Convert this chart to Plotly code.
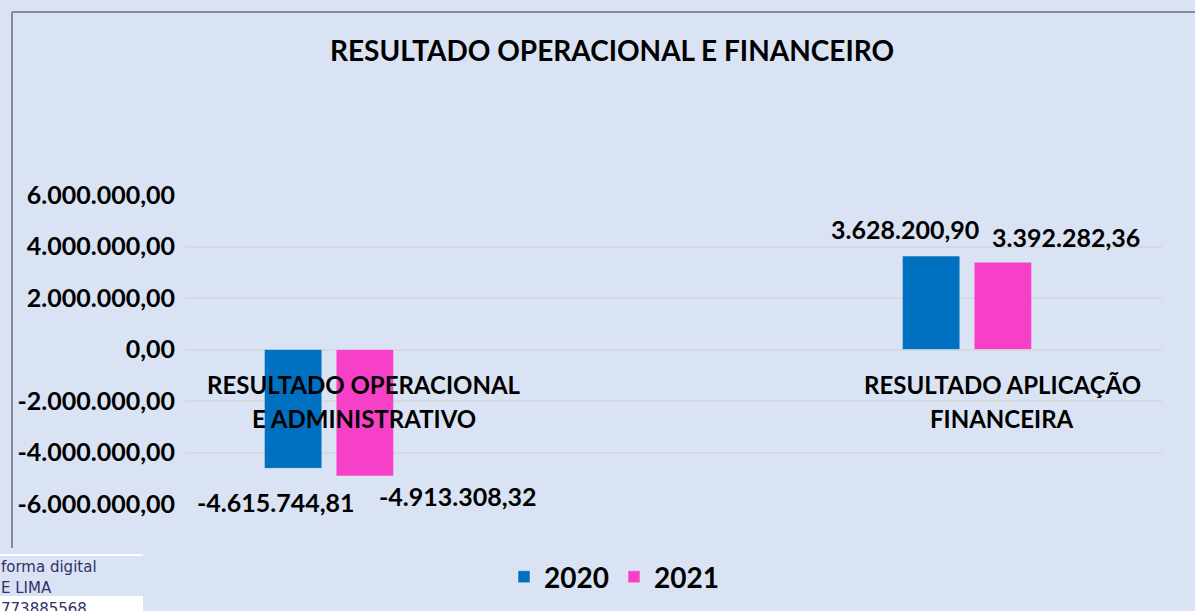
import plotly.graph_objects as go

# ---- data ----
categories = ["RESULTADO OPERACIONAL E ADMINISTRATIVO", "RESULTADO APLICAÇÃO FINANCEIRA"]
category_lines = [["RESULTADO OPERACIONAL", "E ADMINISTRATIVO"], ["RESULTADO APLICAÇÃO", "FINANCEIRA"]]
series_names = ["2020", "2021"]
values_2020 = [-4615744.81, 3628200.90]
values_2021 = [-4913308.32, 3392282.36]
tick_values = [-6000000, -4000000, -2000000, 0, 2000000, 4000000, 6000000]
title_text = "RESULTADO OPERACIONAL E FINANCEIRO"
stamp_lines = ["forma digital", "E LIMA", "773885568"]


def br(v):
    s = f"{v:,.2f}"
    return s.replace(",", "#").replace(".", ",").replace("#", ".")


W, H = 1195, 611
L, R, T, B = 185, 1162, 195, 504
FONT = "Lato"
BG = "#dae3f3"
BLUE = "#0070c0"
PINK = "#f640c8"

fig = go.Figure()
fig.add_trace(go.Bar(x=[0, 1], y=values_2020, name=series_names[0], marker_color=BLUE))
fig.add_trace(go.Bar(x=[0, 1], y=values_2021, name=series_names[1], marker_color=PINK))


def px2paper(px, py):
    return (px - L) / (R - L), (B - py) / (B - T)


ann = []
# data labels (manually placed as in the reference)
label_specs = [
    (values_2020[0], 0, -53, -34),
    (values_2021[0], 0, 129, -20),
    (values_2020[1], 1, -62, 27),
    (values_2021[1], 1, 99, 25),
]
for v, xi, xs, ys in label_specs:
    ann.append(dict(x=xi, y=v, xref="x", yref="y", text=br(v), showarrow=False,
                    xshift=xs, yshift=ys, yanchor="middle",
                    font=dict(family=FONT, size=25, color="black", weight="bold")))
# category labels
for xi, lines in enumerate(category_lines):
    for li, line in enumerate(lines):
        ann.append(dict(x=xi, y=0, xref="x", yref="y", text=line, showarrow=False,
                        xshift=35, yshift=-(35 + 34 * li), yanchor="middle",
                        font=dict(family=FONT, size=24, color="black", weight="bold")))
# stamp text
for i, line in enumerate(stamp_lines):
    xp, yp = px2paper(-1, 567 + 21 * i)
    ann.append(dict(x=xp, y=yp, xref="paper", yref="paper", text=line, showarrow=False,
                    xanchor="left", yanchor="middle",
                    font=dict(family="DejaVu Sans", size=15, color="#34306a")))

shapes = []
# outer border (top and left)
x0, y0 = px2paper(12, 12)
x1, y1 = px2paper(1200, 12)
shapes.append(dict(type="line", xref="paper", yref="paper", x0=x0, y0=y0, x1=x1, y1=y1,
                   line=dict(color="#8a8a8a", width=2)))
x2, y2 = px2paper(12, 548)
shapes.append(dict(type="line", xref="paper", yref="paper", x0=x0, y0=y0, x1=x2, y1=y2,
                   line=dict(color="#8a8a8a", width=2)))
# stamp decorations
sx0, sy0 = px2paper(0, 555)
sx1, sy1 = px2paper(143, 555)
shapes.append(dict(type="line", xref="paper", yref="paper", x0=sx0, y0=sy0, x1=sx1, y1=sy1,
                   line=dict(color="white", width=2)))
rx0, ry0 = px2paper(0, 596)
rx1, ry1 = px2paper(143, 615)
shapes.append(dict(type="rect", xref="paper", yref="paper", x0=rx0, y0=ry0, x1=rx1, y1=ry1,
                   fillcolor="white", line=dict(width=0), layer="below"))

unit = 638.0
xr = [(L - 329) / unit, (R - 329) / unit]

fig.update_layout(
    width=W, height=H,
    margin=dict(l=L, r=W - R, t=T, b=H - B, pad=0),
    paper_bgcolor=BG, plot_bgcolor=BG,
    barmode="group", bargap=0.775, bargroupgap=0.2,
    title=dict(text=title_text, x=612 / W, xanchor="center", y=1 - 51 / H, yanchor="middle",
               font=dict(family=FONT, size=28, color="black", weight="bold")),
    xaxis=dict(range=xr, showticklabels=False, showgrid=False, zeroline=False, ticks=""),
    yaxis=dict(range=[-6000000, 6000000], tickvals=tick_values,
               ticktext=[br(v) for v in tick_values], showgrid=True, gridcolor="#d5d8dc",
               gridwidth=1.5, zeroline=True, zerolinecolor="#d5d8dc", zerolinewidth=1.5,
               ticks="", ticklabelstandoff=9,
               tickfont=dict(family=FONT, size=25, color="black", weight="bold")),
    legend=dict(orientation="h", x=614 / W, xref="container", xanchor="center",
                y=1 - 577 / H, yref="container", yanchor="middle",
                font=dict(family=FONT, size=28, color="black", weight="bold"),
                itemwidth=30, bgcolor="rgba(0,0,0,0)"),
    annotations=ann, shapes=shapes, showlegend=True,
)

fig.write_html("out.html", config={"displayModeBar": False},
               post_script="document.body.style.margin='0';document.body.style.overflow='hidden';document.body.style.background='#dae3f3';")
